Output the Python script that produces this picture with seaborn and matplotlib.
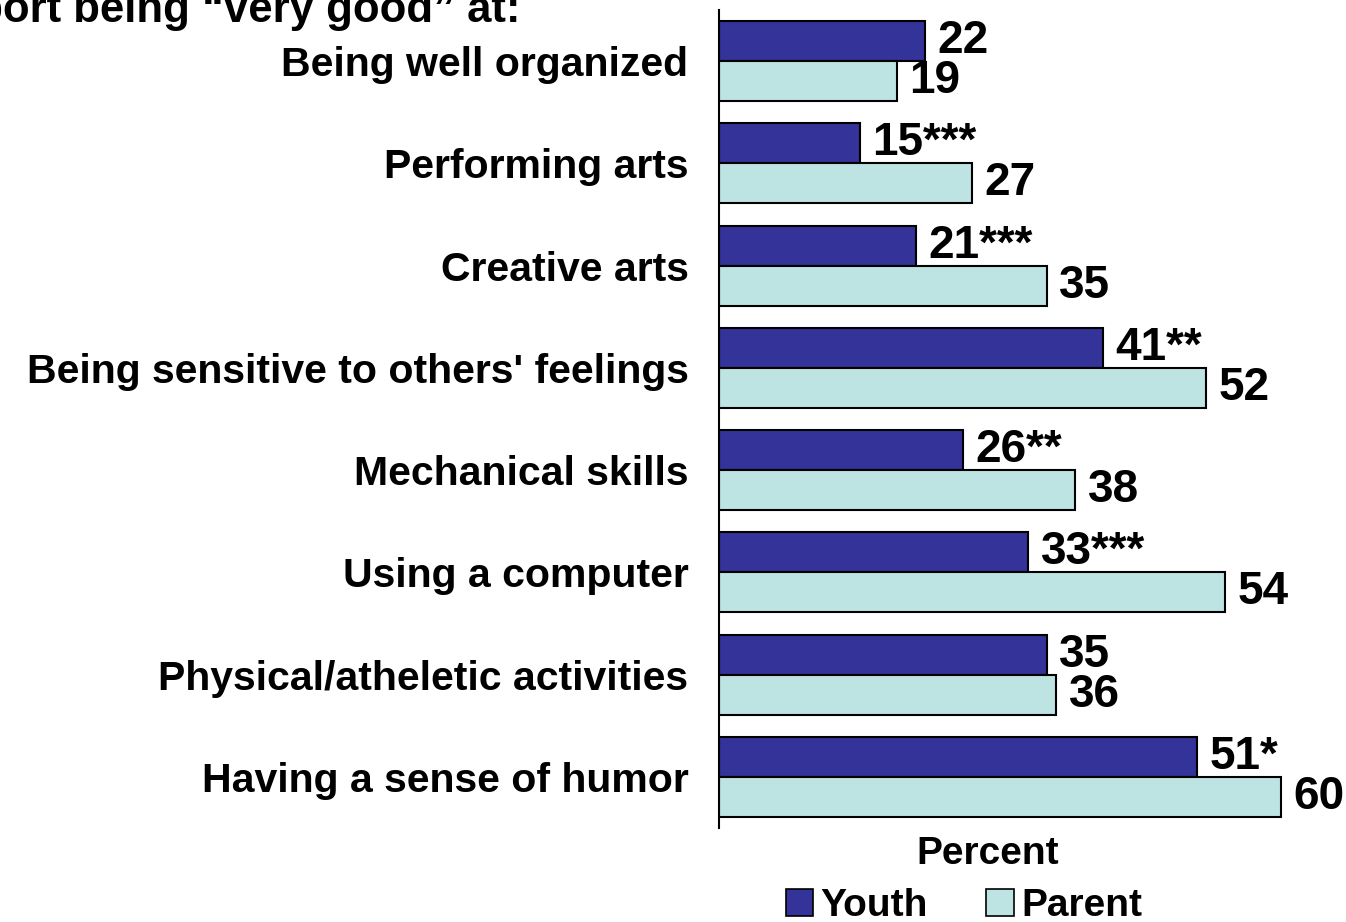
import pandas as pd
import matplotlib.pyplot as plt
import seaborn as sns
from matplotlib.patches import Patch

# Chart data
skills = ["Being well organized", "Performing arts", "Creative arts",
          "Being sensitive to others' feelings", "Mechanical skills",
          "Using a computer", "Physical/atheletic activities",
          "Having a sense of humor"]
youth = [22, 15, 21, 41, 26, 33, 35, 51]
parent = [19, 27, 35, 52, 38, 54, 36, 60]
youth_sig = ["", "***", "***", "**", "**", "***", "", "*"]
groups = ["Youth", "Parent"]
colors = ["#333399", "#BDE3E3"]

df = pd.DataFrame({
    "skill": skills * 2,
    "value": youth + parent,
    "group": ["Youth"] * len(skills) + ["Parent"] * len(skills),
})

sns.set_theme(style="white")
plt.rcParams["font.family"] = ["Liberation Sans", "DejaVu Sans"]
plt.rcParams["font.weight"] = "bold"
plt.rcParams["text.color"] = "black"

fig = plt.figure(figsize=(13.46, 9.22), dpi=100)
ax = fig.add_axes([719 / 1346, 1 - 828 / 922, 1 - 719 / 1346, (828 - 10) / 922])

sns.barplot(data=df, y="skill", x="value", hue="group", hue_order=groups,
            palette=colors, order=skills, width=0.78, orient="h",
            edgecolor="black", linewidth=1.5, saturation=1, ax=ax, legend=False)

# value labels
labels = [f"{v}{s}" for v, s in zip(youth, youth_sig)] + [str(v) for v in parent]
for container, labs in zip(ax.containers, [labels[:8], labels[8:]]):
    ax.bar_label(container, labels=labs, padding=9, fontsize=33,
                 fontweight="bold", color="black")

ax.set_xlim(0, 627 / 9.37)
ax.set_ylim(7.5, -0.5)
ax.set_ylabel("")
ax.set_xlabel("Percent", fontsize=28, fontweight="bold", color="black")
ax.xaxis.set_label_coords((988 - 719) / (1346 - 719), -0.01, transform=ax.transAxes)
ax.xaxis.label.set_va("top")
ax.set_xticks([])
ax.tick_params(axis="y", length=0, pad=22, labelsize=29.5, labelcolor="black")
for lbl in ax.get_yticklabels():
    lbl.set_fontweight("bold")
for side in ["top", "right", "bottom"]:
    ax.spines[side].set_visible(False)
ax.spines["left"].set_color("black")
ax.spines["left"].set_linewidth(1.5)

# heading, partly off the top-left edge as in the original slide
fig.text(520 / 1346, 1 - 22 / 922, "Youth report being \u201cvery good\u201d at:",
         ha="right", va="baseline", fontsize=31.5, fontweight="bold", color="black")

handles = [Patch(facecolor=c, edgecolor="black", linewidth=1.2) for c in colors]
fig.legend(handles, groups, loc="center", bbox_to_anchor=(964 / 1346, 1 - 906 / 922),
           ncol=2, frameon=False, handlelength=0.7, handleheight=0.7,
           handletextpad=0.2, columnspacing=1.5, borderpad=0,
           prop={"weight": "bold", "size": 28}, labelcolor="black")

fig.savefig("out.png", dpi=100)
